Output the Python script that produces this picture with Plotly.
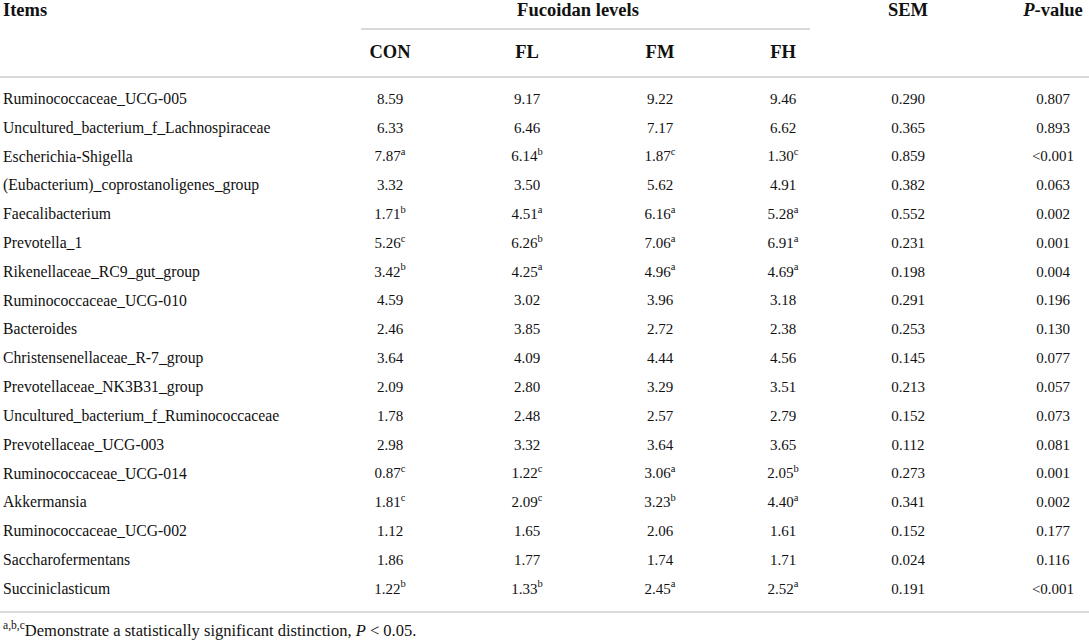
import plotly.graph_objects as go

# table data
items = [
    "Ruminococcaceae_UCG-005",
    "Uncultured_bacterium_f_Lachnospiraceae",
    "Escherichia-Shigella",
    "(Eubacterium)_coprostanoligenes_group",
    "Faecalibacterium",
    "Prevotella_1",
    "Rikenellaceae_RC9_gut_group",
    "Ruminococcaceae_UCG-010",
    "Bacteroides",
    "Christensenellaceae_R-7_group",
    "Prevotellaceae_NK3B31_group",
    "Uncultured_bacterium_f_Ruminococcaceae",
    "Prevotellaceae_UCG-003",
    "Ruminococcaceae_UCG-014",
    "Akkermansia",
    "Ruminococcaceae_UCG-002",
    "Saccharofermentans",
    "Succiniclasticum",
]
con = [8.59, 6.33, 7.87, 3.32, 1.71, 5.26, 3.42, 4.59, 2.46, 3.64, 2.09, 1.78, 2.98, 0.87, 1.81, 1.12, 1.86, 1.22]
fl = [9.17, 6.46, 6.14, 3.50, 4.51, 6.26, 4.25, 3.02, 3.85, 4.09, 2.80, 2.48, 3.32, 1.22, 2.09, 1.65, 1.77, 1.33]
fm = [9.22, 7.17, 1.87, 5.62, 6.16, 7.06, 4.96, 3.96, 2.72, 4.44, 3.29, 2.57, 3.64, 3.06, 3.23, 2.06, 1.74, 2.45]
fh = [9.46, 6.62, 1.30, 4.91, 5.28, 6.91, 4.69, 3.18, 2.38, 4.56, 3.51, 2.79, 3.65, 2.05, 4.40, 1.61, 1.71, 2.52]
con_sup = ["", "", "a", "", "b", "c", "b", "", "", "", "", "", "", "c", "c", "", "", "b"]
fl_sup = ["", "", "b", "", "a", "b", "a", "", "", "", "", "", "", "c", "c", "", "", "b"]
fm_sup = ["", "", "c", "", "a", "a", "a", "", "", "", "", "", "", "a", "b", "", "", "a"]
fh_sup = ["", "", "c", "", "a", "a", "a", "", "", "", "", "", "", "b", "a", "", "", "a"]
sem = [0.290, 0.365, 0.859, 0.382, 0.552, 0.231, 0.198, 0.291, 0.253, 0.145, 0.213, 0.152, 0.112, 0.273, 0.341, 0.152, 0.024, 0.191]
pval = ["0.807", "0.893", "<0.001", "0.063", "0.002", "0.001", "0.004", "0.196", "0.130",
        "0.077", "0.057", "0.073", "0.081", "0.001", "0.002", "0.177", "0.116", "<0.001"]
groups = ["CON", "FL", "FM", "FH"]

# layout (pixel coordinates)
W, H = 1089, 643
FONT = "Liberation Serif"
TXT = "#111111"
col_x = [390, 527, 660, 783]
sem_x = 908
p_x = 1053
row_y0, row_step = 100, 28.82
rows_y = [row_y0 + i * row_step for i in range(len(items))]
LINE = "#d9d9d9"


def fmt(vals, sups):
    return [f"{v:.2f}<sup>{s}</sup>" if s else f"{v:.2f}" for v, s in zip(vals, sups)]


def text_trace(x, y, text, pos="middle center", size=15):
    return go.Scatter(
        x=x, y=y, text=text, mode="text", textposition=pos,
        textfont=dict(family=FONT, size=size, color=TXT),
        hoverinfo="skip"
    )


fig = go.Figure()

# item labels
fig.add_trace(text_trace([3] * len(items), rows_y, items, pos="middle right", size=15.7))

for cx, vals, sups in zip(col_x, [con, fl, fm, fh], [con_sup, fl_sup, fm_sup, fh_sup]):
    fig.add_trace(text_trace([cx] * len(vals), rows_y, fmt(vals, sups)))

fig.add_trace(text_trace([sem_x] * len(sem), rows_y, [f"{v:.3f}" for v in sem]))
fig.add_trace(text_trace([p_x] * len(pval), rows_y, [p.replace("<", "&lt;") for p in pval]))

# header texts
fig.add_trace(text_trace([3], [11], ["<b>Items</b>"], pos="middle right", size=18.5))
fig.add_trace(text_trace(
    [578, sem_x, p_x], [11, 11, 11],
    ["<b>Fucoidan levels</b>", "<b>SEM</b>", "<b><i>P</i>-value</b>"], size=18.5
))
fig.add_trace(text_trace(col_x, [53] * len(groups), [f"<b>{g}</b>" for g in groups], size=18.5))

# footnote
fig.add_trace(text_trace(
    [3], [632],
    ["<sup>a,b,c</sup>Demonstrate a statistically significant distinction, <i>P</i> &lt; 0.05."],
    pos="middle right", size=16.5
))

# rules
fig.add_shape(type="line", x0=361, x1=810, y0=29, y1=29, line=dict(color=LINE, width=2))
fig.add_shape(type="line", x0=0, x1=W, y0=77, y1=77, line=dict(color=LINE, width=2))
fig.add_shape(type="line", x0=0, x1=W, y0=612, y1=612, line=dict(color=LINE, width=2))

fig.update_layout(
    width=W, height=H,
    margin=dict(l=0, r=0, t=0, b=0),
    paper_bgcolor="white", plot_bgcolor="white",
    showlegend=False,
    xaxis=dict(range=[0, W], visible=False, fixedrange=True),
    yaxis=dict(range=[H, 0], visible=False, fixedrange=True),
)

fig.write_html(
    "out.html",
    config={"displayModeBar": False},
    post_script="document.body.style.margin='0';document.body.style.overflow='hidden';",
)
